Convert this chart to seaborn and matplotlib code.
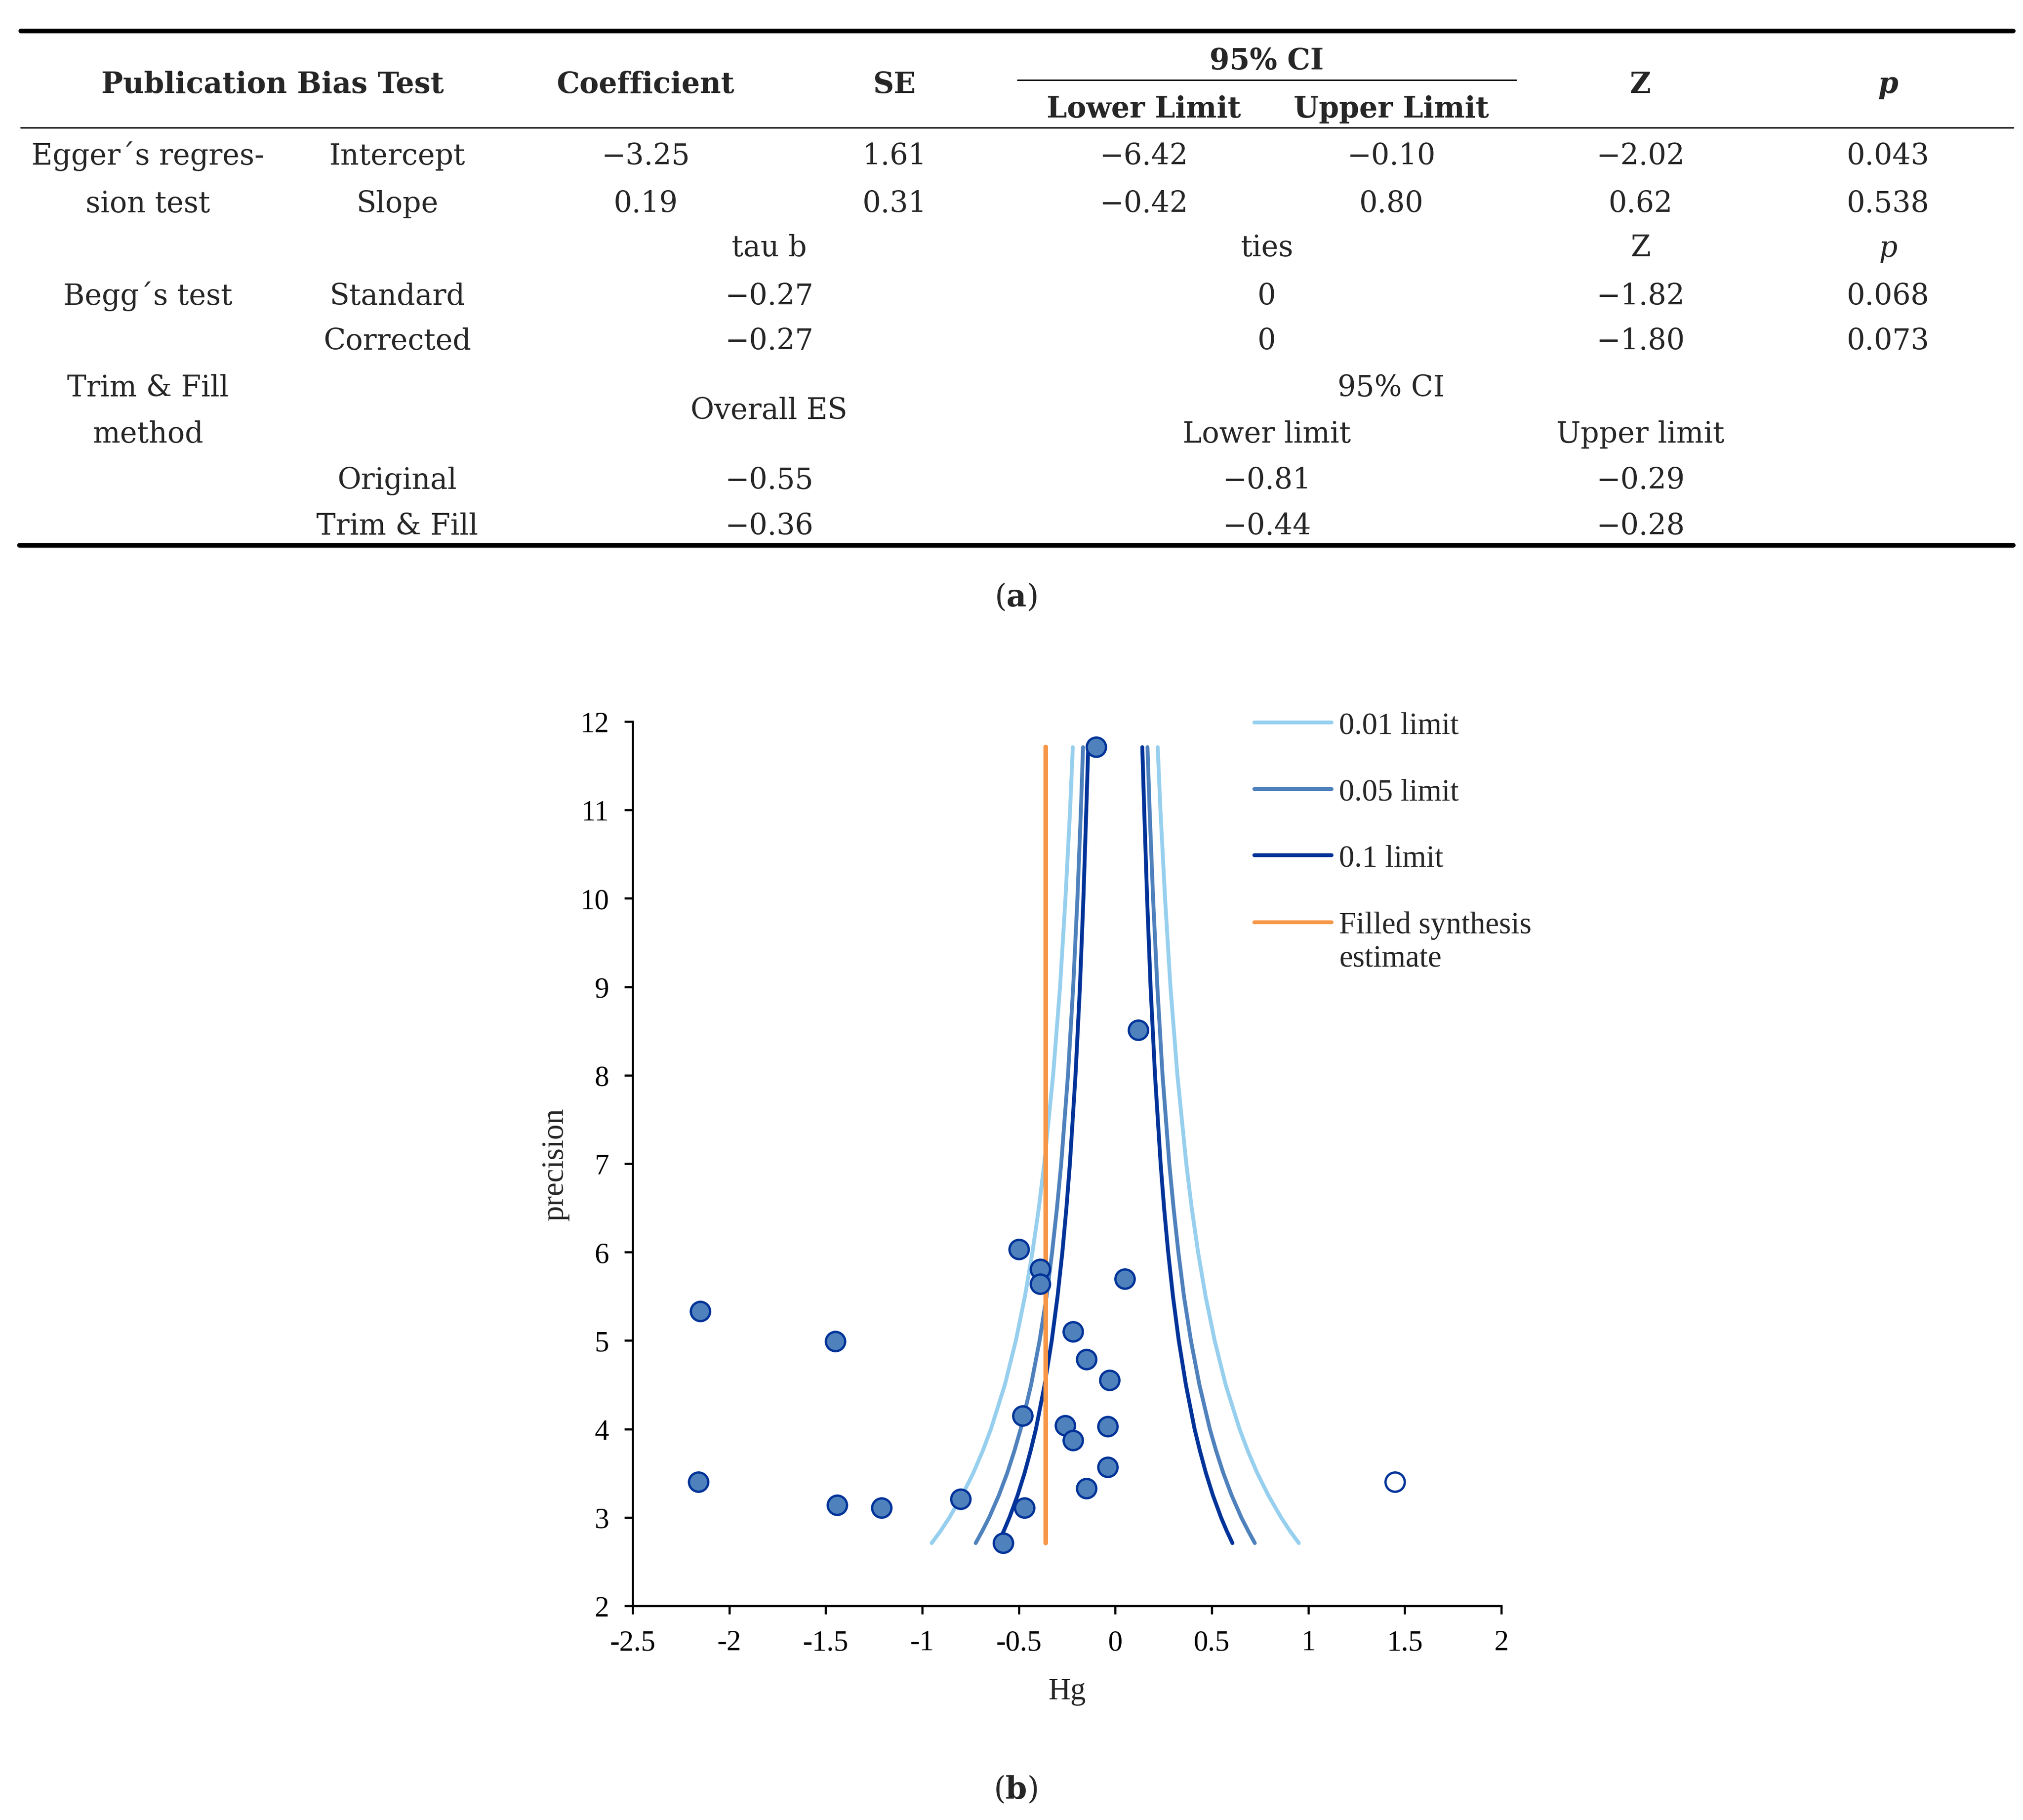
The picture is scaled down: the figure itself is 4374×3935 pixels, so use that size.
import matplotlib
matplotlib.use('Agg')
import matplotlib.pyplot as plt
from matplotlib.lines import Line2D
import seaborn as sns
import pandas as pd

# --- table (a) values ---
egger_rows = ['Intercept', 'Slope']
egger_coef = ['−3.25', '0.19']
egger_se = ['1.61', '0.31']
egger_lower = ['−6.42', '−0.42']
egger_upper = ['−0.10', '0.80']
egger_z = ['−2.02', '0.62']
egger_p = ['0.043', '0.538']

begg_rows = ['Standard', 'Corrected']
begg_tau = ['−0.27', '−0.27']
begg_ties = ['0', '0']
begg_z = ['−1.82', '−1.80']
begg_p = ['0.068', '0.073']

tf_rows = ['Original', 'Trim & Fill']
tf_es = ['−0.55', '−0.36']
tf_lower = ['−0.81', '−0.44']
tf_upper = ['−0.29', '−0.28']

# --- funnel plot (b) values ---
hg = [-0.10, 0.12, -0.50, -0.39, -0.39, 0.05, -2.15, -1.45, -0.22, -0.15, -0.03, -0.48,
      -0.26, -0.04, -0.22, -0.04, -0.15, -2.16, -1.44, -1.21, -0.80, -0.47, -0.58]
precision = [11.71, 8.51, 6.03, 5.81, 5.64, 5.70, 5.33, 4.99, 5.10, 4.79, 4.55, 4.15,
             4.04, 4.03, 3.87, 3.57, 3.33, 3.40, 3.14, 3.11, 3.21, 3.11, 2.71]
filled_hg = [1.45]
filled_precision = [3.40]
filled_es = -0.36
es_precision = [2.71, 11.71]

limit_precision = [2.71, 2.85, 3.0, 3.25, 3.5, 3.75, 4.0, 4.5, 5.0, 5.5, 6.0, 6.5, 7.0,
                   8.0, 9.0, 10.0, 11.0, 11.71]
limit_001 = [0.951, 0.904, 0.859, 0.793, 0.736, 0.687, 0.644, 0.572, 0.515, 0.468, 0.429,
             0.396, 0.368, 0.322, 0.286, 0.258, 0.234, 0.220]
limit_005 = [0.723, 0.688, 0.653, 0.603, 0.560, 0.523, 0.490, 0.436, 0.392, 0.356, 0.327,
             0.302, 0.280, 0.245, 0.218, 0.196, 0.178, 0.167]
limit_010 = [0.607, 0.577, 0.548, 0.506, 0.470, 0.439, 0.411, 0.366, 0.329, 0.299, 0.274,
             0.253, 0.235, 0.206, 0.183, 0.165, 0.150, 0.140]
limit_names = ['0.01 limit', '0.05 limit', '0.1 limit']
limit_colors = ['#97CFEE', '#4F81BD', '#003399']
es_color = '#F79646'
xticks = [-2.5, -2, -1.5, -1, -0.5, 0, 0.5, 1, 1.5, 2]
xtick_labels = ['-2.5', '-2', '-1.5', '-1', '-0.5', '0', '0.5', '1', '1.5', '2']
yticks = [2, 3, 4, 5, 6, 7, 8, 9, 10, 11, 12]

W, H = 4374, 3936
DPI = 300

sns.set_style('ticks')
plt.rcParams['font.family'] = ['Liberation Serif', 'DejaVu Serif']
plt.rcParams['axes.unicode_minus'] = False
plt.rcParams['mathtext.fontset'] = 'dejavuserif'

fig = plt.figure(figsize=(W / DPI, H / DPI), dpi=DPI)
fig.patch.set_facecolor('white')

FS = 15
TABLE_FONT = ['DejaVu Serif']


def put(px, py, s, **kw):
    kw.setdefault('fontsize', FS)
    kw.setdefault('ha', 'center')
    kw.setdefault('va', 'baseline')
    kw.setdefault('family', TABLE_FONT)
    fig.text(px / W, 1 - py / H, s, **kw)


def hline(x0, x1, py, lw):
    fig.add_artist(Line2D([x0 / W, x1 / W], [1 - py / H, 1 - py / H], color='black',
                          lw=lw, transform=fig.transFigure))


# table column centres (pixels)
c_test, c_sub, c_coef, c_tau, c_se = 320, 859, 1396, 1663, 1934
c_low, c_ties, c_up, c_z, c_p = 2473, 2739, 3008, 3547, 4082

hline(45, 4353, 68, 2.4)
hline(45, 4353, 277, 0.75)
hline(2200, 3278, 174, 0.75)
hline(42, 4353, 1180, 2.4)

put(589, 201, 'Publication Bias Test', weight='bold')
put(c_coef, 201, 'Coefficient', weight='bold')
put(c_se, 201, 'SE', weight='bold')
put(c_ties, 150, '95% CI', weight='bold')
put(c_low, 254, 'Lower Limit', weight='bold')
put(c_up, 254, 'Upper Limit', weight='bold')
put(c_z, 201, 'Z', weight='bold')
put(c_p, 201, 'p', weight='bold', style='italic')

put(c_test, 356, 'Egger´s regres-')
put(c_test, 459, 'sion test')
for i, yb in enumerate([356, 459]):
    put(c_sub, yb, egger_rows[i])
    put(c_coef, yb, egger_coef[i])
    put(c_se, yb, egger_se[i])
    put(c_low, yb, egger_lower[i])
    put(c_up, yb, egger_upper[i])
    put(c_z, yb, egger_z[i])
    put(c_p, yb, egger_p[i])

put(c_tau, 554, 'tau b')
put(c_ties, 554, 'ties')
put(c_z, 554, 'Z')
put(c_p, 554, 'p', style='italic')
put(c_test, 659, 'Begg´s test')
for i, yb in enumerate([659, 756]):
    put(c_sub, yb, begg_rows[i])
    put(c_tau, yb, begg_tau[i])
    put(c_ties, yb, begg_ties[i])
    put(c_z, yb, begg_z[i])
    put(c_p, yb, begg_p[i])

put(c_test, 857, 'Trim & Fill')
put(c_test, 957, 'method')
put(c_tau, 906, 'Overall ES')
put(c_up, 857, '95% CI')
put(c_ties, 957, 'Lower limit')
put(c_z, 957, 'Upper limit')
for i, yb in enumerate([1057, 1156]):
    put(c_sub, yb, tf_rows[i])
    put(c_tau, yb, tf_es[i])
    put(c_ties, yb, tf_lower[i])
    put(c_z, yb, tf_upper[i])

put(2196, 1292, r'($\mathbf{a}$)', va='center', fontsize=16)

# --- funnel plot ---
ax_l, ax_r, ax_t, ax_b = 1368, 3246, 1561, 3473
ax = fig.add_axes([ax_l / W, 1 - ax_b / H, (ax_r - ax_l) / W, (ax_b - ax_t) / H])
ax.set_facecolor('white')

rows = []
for name, hw in zip(limit_names, [limit_001, limit_005, limit_010]):
    for side, sign in (('left', -1), ('right', 1)):
        for p, w in zip(limit_precision, hw):
            rows.append({'limit': name, 'side': side, 'hg': sign * w, 'precision': p})
funnel = pd.DataFrame(rows)

sns.lineplot(data=funnel, x='hg', y='precision', hue='limit', units='side',
             estimator=None, sort=False, hue_order=limit_names, palette=limit_colors,
             lw=2.0, legend=False, ax=ax, zorder=2)
sns.lineplot(x=[filled_es, filled_es], y=es_precision, estimator=None, sort=False,
             color=es_color, lw=2.4, ax=ax, zorder=3)
sns.scatterplot(x=hg, y=precision, s=100, color='#4F81BD', edgecolor='#003399',
                linewidth=1.2, ax=ax, zorder=5)
sns.scatterplot(x=filled_hg, y=filled_precision, s=100, color='white', edgecolor='#003399',
                linewidth=1.2, ax=ax, zorder=5)

ax.set_xlim(-2.5, 2)
ax.set_ylim(2, 12)
ax.set_xticks(xticks)
ax.set_xticklabels(xtick_labels)
ax.set_yticks(yticks)
sns.despine(ax=ax)
for s in ['left', 'bottom']:
    ax.spines[s].set_linewidth(1.1)
    ax.spines[s].set_color('black')
ax.tick_params(direction='out', length=4.3, width=1.1, labelsize=15, pad=8, colors='black')

ax.set_xlabel('Hg', fontsize=16, va='center')
ax.set_ylabel('precision', fontsize=16, va='center')
ax.xaxis.set_label_coords(0.5, (ax_b - 3658) / (ax_b - ax_t))
ax.yaxis.set_label_coords((1200 - ax_l) / (ax_r - ax_l), 0.5)

handles = [Line2D([], [], color=c, lw=2, solid_capstyle='round')
           for c in limit_colors + [es_color]]
labels = limit_names + ['Filled synthesis']
leg = ax.legend(handles, labels, loc='upper left',
                bbox_to_anchor=((2712 - ax_l) / (ax_r - ax_l), (ax_b - 1525) / (ax_b - ax_t)),
                frameon=False, fontsize=16, handlelength=2.5, handletextpad=0.25,
                labelspacing=1.24, borderpad=0, borderaxespad=0)

fig.canvas.draw()
# nudge legend so the first row sits on the y=12 level
t0 = leg.get_texts()[0].get_window_extent()
shift = ((t0.y0 + t0.y1) / 2) - (H - 1570)
leg.set_bbox_to_anchor(((2712 - ax_l) / (ax_r - ax_l),
                        (ax_b - 1525) / (ax_b - ax_t) - shift / (ax_b - ax_t)),
                       transform=ax.transAxes)
fig.canvas.draw()
bb = leg.get_texts()[3].get_window_extent()
fig.text(bb.x0 / W, (bb.y0 - 12) / H, 'estimate', fontsize=16, ha='left', va='top')

put(2196, 3870, r'($\mathbf{b}$)', va='center', fontsize=16)

fig.savefig('out.png', dpi=DPI, facecolor='white')
